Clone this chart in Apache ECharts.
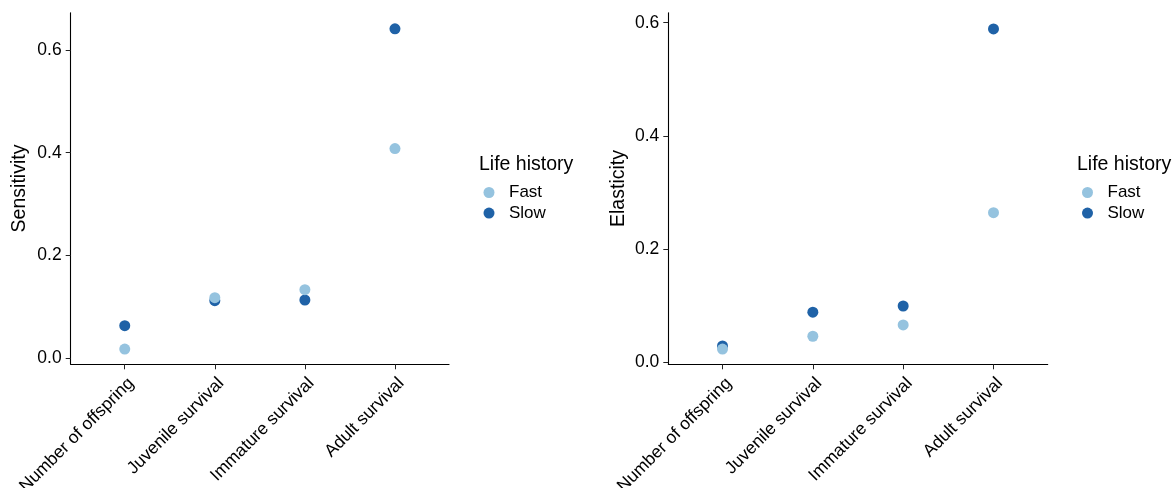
<!DOCTYPE html>
<html>
<head>
<meta charset="utf-8">
<script src="https://cdn.jsdelivr.net/npm/echarts@6/dist/echarts.min.js"></script>
<style>html,body{margin:0;padding:0;background:#fff}#c{width:1176px;height:488px}</style>
</head>
<body>
<div id="c"></div>
<script>
const categories = ['Number of offspring', 'Juvenile survival', 'Immature survival', 'Adult survival'];
const sensitivityFast = [0.018, 0.118, 0.1335, 0.408];
const sensitivitySlow = [0.0635, 0.112, 0.1134, 0.641];
const elasticityFast = [0.024, 0.0466, 0.0665, 0.2647];
const elasticitySlow = [0.0295, 0.089, 0.100, 0.589];
const yTicks = [0, 0.2, 0.4, 0.6];
const seriesNames = ['Fast', 'Slow'];

const colFast = '#95c3df';
const colSlow = '#1f62a7';
const font = 'Liberation Sans, Arial, Helvetica, sans-serif';
const txt = '#000';

function pts(arr) { return arr.map((v, i) => [i + 1, v]); }

function xAx(gi) {
  return {
    type: 'value', gridIndex: gi, min: 0.4, max: 4.6,
    splitLine: { show: false },
    axisLine: { show: true, onZero: false, lineStyle: { color: '#000', width: 1.1 } },
    axisTick: { show: true, length: 5, customValues: [1, 2, 3, 4], lineStyle: { color: '#222' } },
    axisLabel: {
      customValues: [1, 2, 3, 4], rotate: 45, margin: 10,
      align: 'right', verticalAlign: 'top',
      formatter: v => categories[Math.round(v) - 1] || '',
      color: txt, fontSize: 17.5, fontFamily: font
    }
  };
}
function yAx(gi, name, min, max, gap) {
  return {
    type: 'value', gridIndex: gi, min: min, max: max, name: name,
    nameLocation: 'middle', nameRotate: 90, nameGap: gap,
    nameTextStyle: { color: txt, fontSize: 19.5, fontFamily: font },
    splitLine: { show: false },
    axisLine: { show: true, onZero: false, lineStyle: { color: '#000', width: 1.1 } },
    axisTick: { show: true, length: 5, customValues: yTicks, lineStyle: { color: '#222' } },
    axisLabel: {
      customValues: yTicks, margin: 9,
      formatter: v => v.toFixed(1),
      color: txt, fontSize: 17.5, fontFamily: font
    }
  };
}
function legend(left) {
  return {
    data: seriesNames, orient: 'vertical', left: left, top: 179,
    icon: 'circle', itemWidth: 30, itemHeight: 11, itemGap: 3.6,
    textStyle: { color: txt, fontSize: 17, fontFamily: font }
  };
}
function sc(name, gx, data, color) {
  return {
    type: 'scatter', name: name, xAxisIndex: gx, yAxisIndex: gx,
    data: pts(data), symbolSize: 11,
    itemStyle: { color: color, opacity: 1 },
    emphasis: { disabled: true }, animation: false
  };
}

const chart = echarts.init(document.getElementById('c'), null, { renderer: 'canvas' });
chart.setOption({
  backgroundColor: '#fff',
  animation: false,
  title: [
    { text: 'Life history', left: 474, top: 150, textStyle: { color: txt, fontSize: 19.5, fontWeight: 'normal', fontFamily: font } },
    { text: 'Life history', left: 1072, top: 150, textStyle: { color: txt, fontSize: 19.5, fontWeight: 'normal', fontFamily: font } }
  ],
  legend: [legend(478.5), legend(1077)],
  grid: [
    { left: 70.7, top: 12.7, width: 378.3, height: 351.6, containLabel: false, outerBoundsMode: 'none' },
    { left: 668.3, top: 12.7, width: 379.4, height: 351.6, containLabel: false, outerBoundsMode: 'none' }
  ],
  xAxis: [xAx(0), xAx(1)],
  yAxis: [yAx(0, 'Sensitivity', -0.0117, 0.6724, 41), yAx(1, 'Elasticity', -0.0029, 0.6176, 40)],
  series: [
    sc('Slow', 0, sensitivitySlow, colSlow),
    sc('Fast', 0, sensitivityFast, colFast),
    sc('Slow', 1, elasticitySlow, colSlow),
    sc('Fast', 1, elasticityFast, colFast)
  ]
});
</script>
</body>
</html>
